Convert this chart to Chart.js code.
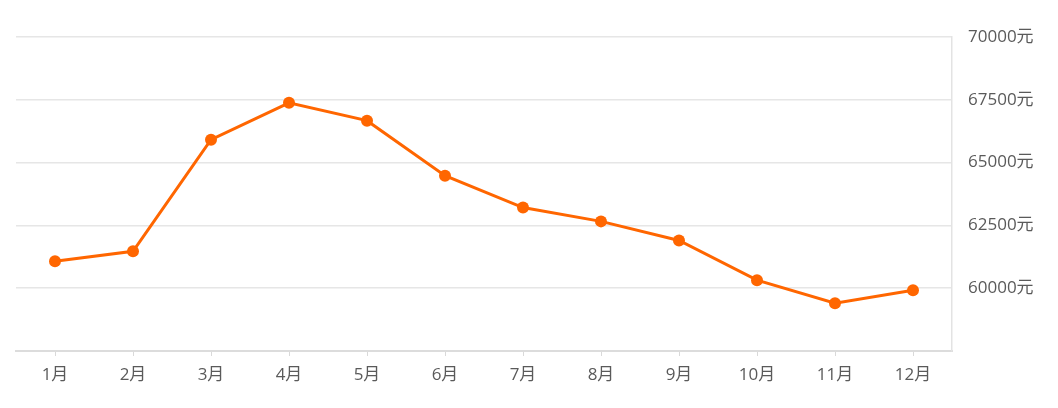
<!DOCTYPE html>
<html>
<head>
<meta charset="utf-8">
<script src="https://cdn.jsdelivr.net/npm/chart.js@4/dist/chart.umd.min.js"></script>
<style>
html,body{margin:0;padding:0;background:#fff;}
#wrap{width:1058px;height:408px;}
</style>
</head>
<body>
<div id="wrap"><canvas id="c" width="1058" height="408"></canvas></div>
<script>
const categories = ['1月','2月','3月','4月','5月','6月','7月','8月','9月','10月','11月','12月'];
const prices = [61070, 61470, 65910, 67380, 66670, 64480, 63210, 62660, 61900, 60320, 59400, 59920];
const yMin = 57500;
const yMax = 70000;
const yStep = 2500;
const yUnit = '元';

const FONT = '"Open Sans", "Noto Sans CJK SC", sans-serif';

new Chart(document.getElementById('c'), {
  type: 'line',
  data: {
    labels: categories,
    datasets: [{
      data: prices,
      borderColor: '#ff6600',
      backgroundColor: '#ff6600',
      borderWidth: 3,
      pointRadius: 6,
      pointHoverRadius: 6,
      pointBackgroundColor: '#ff6600',
      pointBorderWidth: 0,
      tension: 0,
      fill: false
    }]
  },
  options: {
    responsive: false,
    animation: false,
    devicePixelRatio: 1,
    layout: { padding: { left: 16, top: 37, right: 0, bottom: 0 } },
    plugins: { legend: { display: false }, tooltip: { enabled: false } },
    scales: {
      x: {
        offset: true,
        grid: {
          offset: false,
          drawOnChartArea: false,
          drawTicks: true,
          tickLength: 5,
          color: '#d9d9d9',
          lineWidth: 1
        },
        border: { display: true, color: '#dcdcdc', width: 2 },
        ticks: {
          color: '#5a5a5a',
          font: { family: FONT, size: 17 },
          padding: 9,
          maxRotation: 0
        },
        afterFit: s => { s.height = 57; }
      },
      y: {
        position: 'right',
        min: yMin,
        max: yMax,
        grid: {
          color: '#e6e6e6',
          lineWidth: 1.5,
          drawTicks: false
        },
        border: { display: true, color: '#e3e3e3', width: 1.5 },
        ticks: {
          stepSize: yStep,
          color: '#5a5a5a',
          font: { family: FONT, size: 17 },
          padding: 16,
          callback: v => (v === yMin ? '' : v + yUnit)
        },
        afterFit: s => { s.width = 106; }
      }
    }
  }
});
</script>
</body>
</html>
